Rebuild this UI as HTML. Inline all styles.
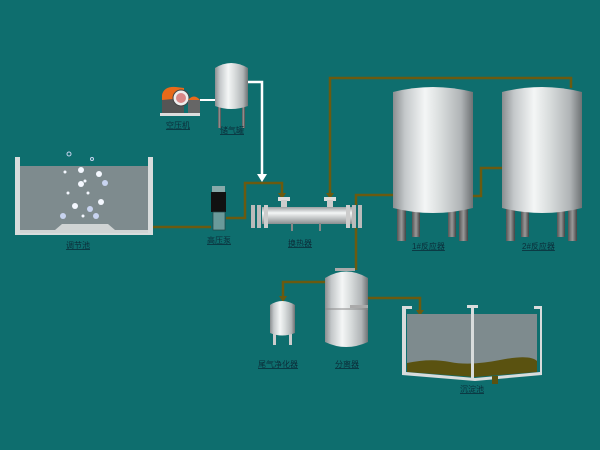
<!DOCTYPE html>
<html><head><meta charset="utf-8"><style>
html,body{margin:0;padding:0;background:#0e6e6e;}
svg{display:block}
text{font-family:"Liberation Sans","Noto Sans CJK SC",sans-serif;font-size:8px;fill:#0b2e3a;text-decoration:underline}
</style></head><body>
<svg width="600" height="450" viewBox="0 0 600 450">
<defs>
<linearGradient id="cyl" x1="0" x2="1">
<stop offset="0" stop-color="#8a8e90"/><stop offset="0.15" stop-color="#c4c8ca"/><stop offset="0.4" stop-color="#f4f6f6"/><stop offset="0.6" stop-color="#d8dcdc"/><stop offset="0.85" stop-color="#b0b4b6"/><stop offset="1" stop-color="#6e7274"/>
</linearGradient>
<linearGradient id="hcyl" x1="0" x2="0" y1="0" y2="1">
<stop offset="0" stop-color="#9ca0a2"/><stop offset="0.35" stop-color="#f4f6f6"/><stop offset="1" stop-color="#8a8e90"/>
</linearGradient>
<linearGradient id="leg" x1="0" x2="1"><stop offset="0" stop-color="#555"/><stop offset="0.5" stop-color="#999"/><stop offset="1" stop-color="#444"/></linearGradient>
</defs>
<rect width="600" height="450" fill="#0e6e6e"/>

<!-- brown pipes -->
<g stroke="#6b5a10" stroke-width="2.5" fill="none">
<path d="M153 227 H211"/>
<path d="M226 218 H245 V183 H282 V195"/>
<path d="M330 196 V78 H571 V88"/>
<path d="M356 205 V195 H393"/>
<path d="M356 228 V270"/>
<path d="M473 196 H481 V168 H502"/>
<path d="M325 282 H283 V298"/>
<path d="M368 298 H420 V312"/>
</g>
<g fill="#6b5a10">
<polygon points="278,193 286,193 282,199"/><polygon points="326,193 334,193 330,199"/>
<polygon points="279,296 287,296 283,302"/><polygon points="416,310 424,310 420,316"/>
</g>
<!-- white air line -->
<path d="M248 82 H262 V176" stroke="#fff" stroke-width="2.5" fill="none"/>
<polygon points="257,174 267,174 262,182" fill="#fff"/>

<!-- adjustment tank -->
<path d="M15 157 H20 V230 H148 V157 H153 V235 H15 Z" fill="#d8dcdc"/>
<rect x="20" y="166" width="128" height="64" fill="#7e8b8e"/>
<path d="M20 230 H55 L62 224 H108 L115 230 H148 V233 H20Z" fill="#d0d4d4"/>
<g fill="#f4f8ff">
<circle cx="81" cy="170" r="3"/><circle cx="65" cy="172" r="1.5"/><circle cx="81" cy="184" r="3"/><circle cx="99" cy="174" r="3"/><circle cx="105" cy="183" r="3" fill="#c8d4f0"/><circle cx="85" cy="181" r="1.5"/><circle cx="68" cy="193" r="1.5"/><circle cx="88" cy="193" r="1.5"/><circle cx="75" cy="206" r="3"/><circle cx="90" cy="209" r="3" fill="#c8d4f0"/><circle cx="101" cy="202" r="3"/><circle cx="63" cy="216" r="3" fill="#c8d4f0"/><circle cx="83" cy="216" r="1.5"/><circle cx="96" cy="216" r="3" fill="#c8d4f0"/>
<circle cx="69" cy="154" r="2" fill="none" stroke="#c8d4f0"/><circle cx="92" cy="159" r="1.5" fill="none" stroke="#c8d4f0"/>
</g>
<text x="66" y="248">调节池</text>

<!-- compressor -->
<rect x="160" y="113" width="40" height="3" fill="#ddd"/>
<rect x="162" y="93" width="22" height="20" fill="#555"/>
<path d="M162 95 Q164 86 176 87 L184 88 L184 98 L162 100Z" fill="#e86a1a"/>
<circle cx="181" cy="98" r="8" fill="#eee" stroke="#444"/>
<circle cx="181" cy="98" r="5" fill="#c44" opacity="0.6"/>
<rect x="188" y="100" width="12" height="13" fill="#666"/>
<path d="M188 100 Q194 93 200 100Z" fill="#e86a1a"/>
<path d="M200 100 H215" stroke="#fff" stroke-width="2"/>
<text x="166" y="128">空压机</text>

<!-- air tank -->
<rect x="218" y="106" width="3" height="22" fill="url(#leg)"/><rect x="242" y="106" width="3" height="22" fill="url(#leg)"/>
<path d="M215 68 Q231 58 248 68 V106 Q231 112 215 106Z" fill="url(#cyl)"/>
<text x="220" y="133">储气罐</text>

<!-- pump -->
<rect x="212" y="186" width="13" height="6" fill="#8aa"/>
<rect x="211" y="192" width="15" height="20" fill="#111"/>
<rect x="213" y="212" width="12" height="18" fill="#6a9a9a" stroke="#244" stroke-width="0.7"/>
<text x="207" y="243">高压泵</text>

<!-- heat exchanger -->
<rect x="278" y="197" width="12" height="4" fill="#ddd"/><rect x="281" y="200" width="6" height="8" fill="#ccc"/>
<rect x="324" y="197" width="12" height="4" fill="#ddd"/><rect x="327" y="200" width="6" height="8" fill="#ccc"/>
<rect x="262" y="207" width="90" height="17" fill="url(#hcyl)"/>
<rect x="251" y="205" width="4" height="23" fill="#bbb"/><rect x="257" y="205" width="4" height="23" fill="#bbb"/><rect x="264" y="205" width="4" height="23" fill="#ccc"/>
<rect x="346" y="205" width="4" height="23" fill="#ccc"/><rect x="352" y="205" width="4" height="23" fill="#bbb"/><rect x="358" y="205" width="4" height="23" fill="#bbb"/>
<rect x="291" y="223" width="2" height="8" fill="#888"/><rect x="319" y="223" width="2" height="8" fill="#888"/>
<text x="288" y="246">换热器</text>

<!-- reactors -->
<g id="r1">
<rect x="397" y="205" width="9" height="36" fill="url(#leg)"/><rect x="459" y="205" width="9" height="36" fill="url(#leg)"/>
<rect x="412" y="205" width="8" height="32" fill="url(#leg)"/><rect x="448" y="205" width="8" height="32" fill="url(#leg)"/>
<path d="M393 92 Q433 82 473 92 V208 Q433 218 393 208Z" fill="url(#cyl)"/>
</g>
<use href="#r1" x="109"/>
<text x="412" y="249">1#反应器</text>
<text x="522" y="249">2#反应器</text>

<!-- exhaust purifier -->
<rect x="273" y="330" width="3" height="15" fill="#ccc"/><rect x="289" y="330" width="3" height="15" fill="#ccc"/>
<path d="M270 305 Q282 297 295 305 V333 Q282 338 270 333Z" fill="url(#cyl)"/>
<text x="258" y="367">尾气净化器</text>

<!-- separator -->
<path d="M325 278 Q346 265 368 278 V342 Q346 352 325 342Z" fill="url(#cyl)"/>
<rect x="335" y="268" width="20" height="3" fill="#aaa"/>
<path d="M325 309 H368" stroke="#888" stroke-width="1"/>
<rect x="350" y="305" width="18" height="3" fill="#aaa"/>
<text x="335" y="367">分离器</text>

<!-- settling tank -->
<rect x="407" y="314" width="130" height="50" fill="#7e8b8e"/>
<path d="M407 363 Q430 358 450 362 T500 360 T537 361 V372 L475 377 L407 372Z" fill="#5a5210"/>
<path d="M402 306 H412 V309 H406 V372 L475 378 L540 372 V309 H534 V306 H542 V375 L475 381 L402 375Z" fill="#d8dcdc"/>
<rect x="471" y="306" width="3" height="72" fill="#d8dcdc"/><rect x="467" y="305" width="11" height="3" fill="#d8dcdc"/>
<rect x="492" y="376" width="6" height="8" fill="#5a5210"/>
<text x="460" y="392">沉淀池</text>
</svg>
</body></html>
